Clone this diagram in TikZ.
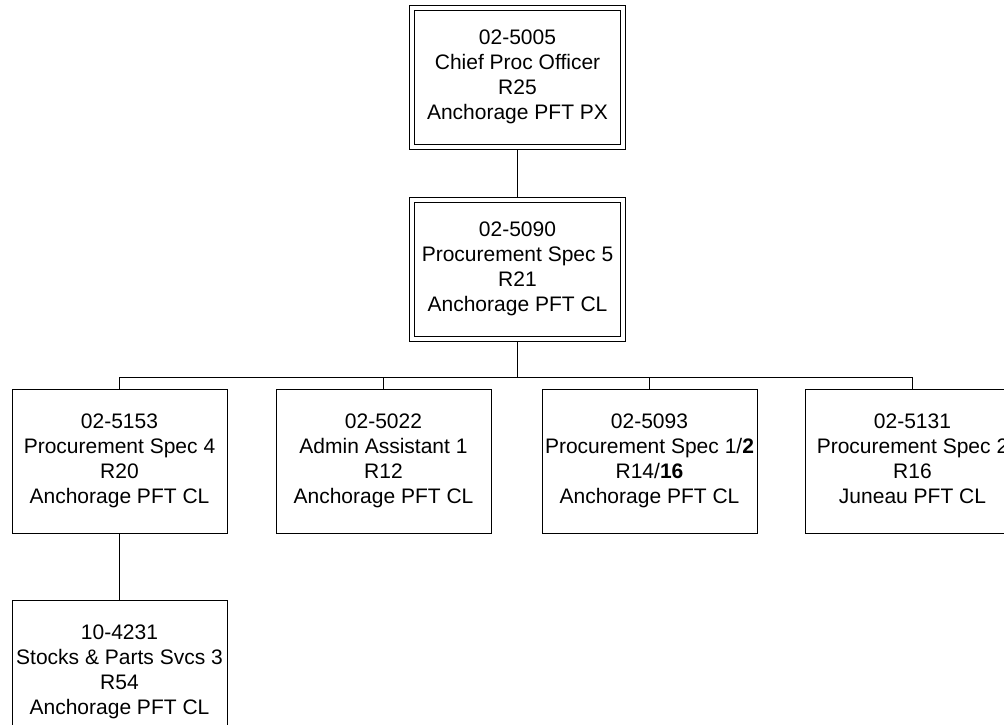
\documentclass[tikz,border=0pt]{standalone}
\usepackage{fontspec}
\setmainfont{Liberation Sans}
\usetikzlibrary{backgrounds}
\begin{document}
\begin{tikzpicture}[x=1pt,y=-1pt,
  box/.style={draw,line width=1pt,fill=white,minimum width=215pt,minimum height=144pt,inner sep=0pt,align=center,font=\fontsize{21}{24.8}\selectfont},
  dbox/.style={box,double,double distance=4pt,minimum width=211.5pt,minimum height=139pt},
  conn/.style={line width=1pt}]
\useasboundingbox (0,0) rectangle (1004,724);
\clip (0,0) rectangle (1004,724);
\node[dbox] (t) at (517.5,77) {02-5005\\Chief Proc Officer\\R25\\Anchorage PFT PX};
\node[dbox] (s) at (517.5,269) {02-5090\\Procurement Spec 5\\R21\\Anchorage PFT CL};
\node[box] (b1) at (119.5,461) {02-5153\\Procurement Spec 4\\R20\\Anchorage PFT CL};
\node[box] (b2) at (383.5,461) {02-5022\\Admin Assistant 1\\R12\\Anchorage PFT CL};
\node[box] (b3) at (649.5,461) {02-5093\\Procurement Spec 1/\textbf{2}\\R14/\textbf{16}\\Anchorage PFT CL};
\node[box] (b4) at (912.5,461) {02-5131\\Procurement Spec 2\\R16\\Juneau PFT CL\vphantom{g}};
\node[box] (c1) at (119.5,672) {10-4231\\Stocks \& Parts Svcs 3\\R54\\Anchorage PFT CL};
\coordinate (bus) at (517.5,377);
\begin{pgfonlayer}{background}
\draw[conn] (t) -- (s);
\draw[conn] (s) -- (bus);
\draw[conn] (b1.north) -- (b1.north |- bus) -- (b4.north |- bus) -- (b4.north);
\draw[conn] (b2.north) -- (b2.north |- bus);
\draw[conn] (b3.north) -- (b3.north |- bus);
\draw[conn] (b1) -- (c1);
\end{pgfonlayer}
\end{tikzpicture}
\end{document}
